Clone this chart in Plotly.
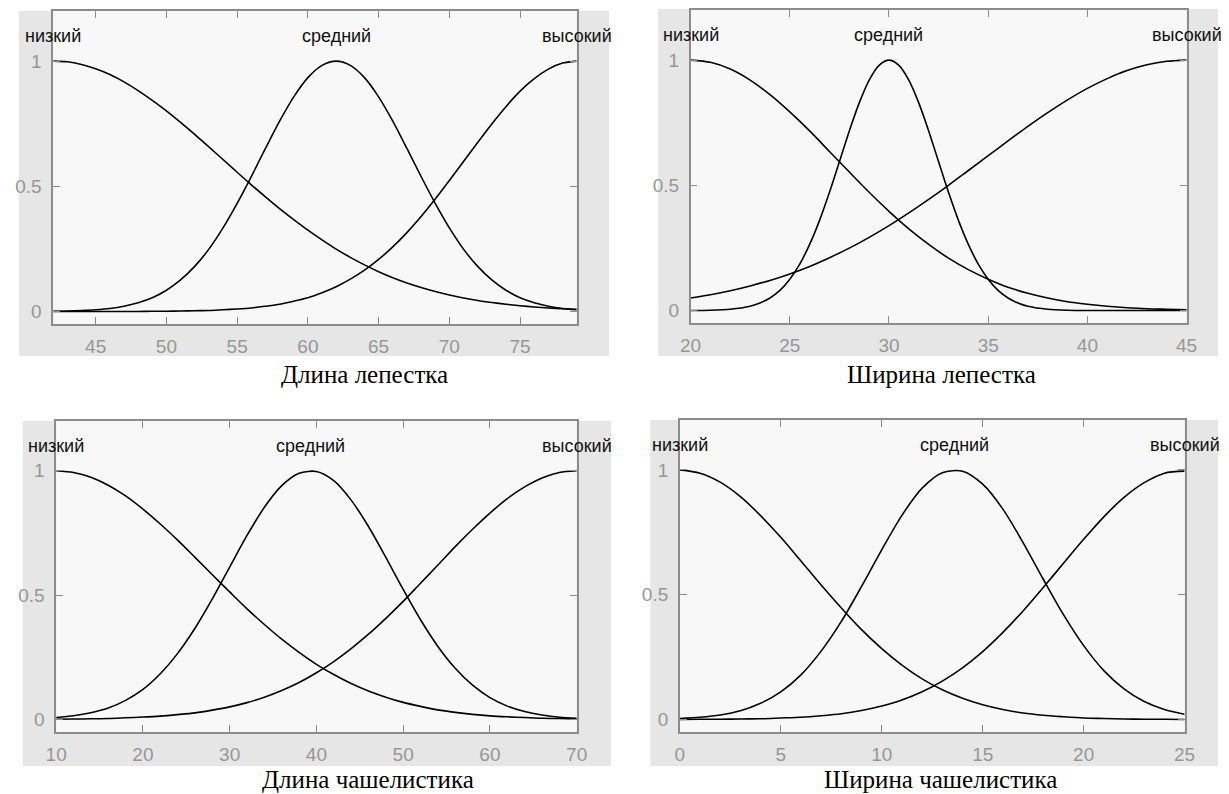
import plotly.graph_objects as go

W, H = 1229, 794

# ---------------- data ----------------
mf_names = ["низкий", "средний", "высокий"]

# Panel 1: Длина лепестка
title1 = "Длина лепестка"
x1 = list(range(42, 80))
low1 = [1.000, .997, .986, .969, .946, .917, .882, .843, .801, .755, .707, .657, .607,
        .556, .506, .458, .411, .367, .325, .286, .249, .216, .186, .159, .135, .114,
        .096, .080, .066, .054, .044, .036, .029, .023, .018, .014, .011, .009]
mid1 = [.001, .002, .004, .007, .012, .021, .035, .055, .085, .126, .180, .249, .334,
        .432, .539, .651, .760, .857, .934, .983, 1.000, .983, .934, .857, .760, .651,
        .539, .432, .334, .249, .180, .126, .085, .055, .035, .021, .012, .007]
high1 = [0, 0, 0, 0, 0, 0, 0, .001, .001, .002, .003, .004, .007, .010, .014, .021,
         .029, .041, .055, .075, .099, .129, .165, .208, .258, .315, .379, .449, .523,
         .599, .675, .749, .818, .880, .930, .968, .992, 1.000]
centers1 = [42, 62, 79]
range1 = [42, 79]
ticks1 = [45, 50, 55, 60, 65, 70, 75]

# Panel 2: Ширина лепестка
title2 = "Ширина лепестка"
x2 = list(range(20, 46))
low2 = [1.000, .991, .964, .920, .862, .793, .717, .635, .553, .472, .396, .326, .264,
        .209, .163, .125, .093, .069, .050, .035, .025, .017, .011, .007, .005, .003]
high2 = [.050, .063, .079, .098, .120, .146, .176, .211, .249, .292, .339, .390, .444,
         .500, .559, .618, .677, .735, .790, .841, .887, .926, .958, .981, .995, 1.000]
# the narrow "средний" curve was read at a finer step
x2_mid = [20, 21, 22, 23, 23.5, 24, 24.5, 25, 25.5, 26, 26.5, 27, 27.5, 28, 28.5, 29,
          29.5, 30, 30.5, 31, 31.5, 32, 32.5, 33, 33.5, 34, 34.5, 35, 35.5, 36, 36.5,
          37, 38, 39, 40, 41, 42, 43, 44, 45]
mid2 = [.000, .001, .005, .017, .030, .050, .080, .125, .185, .264, .360, .472, .594,
        .717, .829, .920, .979, 1.000, .979, .920, .829, .717, .594, .472, .360, .264,
        .185, .125, .080, .050, .030, .017, .005, .001, 0, 0, 0, 0, 0, 0]
centers2 = [20, 30, 45]
range2 = [20, 45]
ticks2 = [20, 25, 30, 35, 40, 45]

# Panel 3: Длина чашелистика
title3 = "Длина чашелистика"
x3 = list(range(10, 71, 2))
low3 = [1.000, .993, .974, .942, .899, .846, .786, .721, .652, .582, .513, .445, .382,
        .323, .270, .222, .181, .145, .115, .090, .069, .053, .039, .029, .021, .015,
        .011, .008, .005, .004, .002]
mid3 = [.008, .015, .027, .046, .077, .121, .184, .266, .367, .485, .613, .740, .853,
        .940, .990, .997, .960, .882, .776, .652, .523, .401, .294, .206, .138, .088,
        .054, .032, .018, .009, .005]
high3 = [.001, .002, .003, .004, .007, .010, .014, .020, .027, .038, .051, .068, .090,
         .117, .149, .188, .233, .285, .343, .407, .475, .548, .621, .695, .765, .830,
         .888, .935, .971, .993, 1.000]
centers3 = [10, 39.3, 70]
range3 = [10, 70]
ticks3 = [10, 20, 30, 40, 50, 60, 70]

# Panel 4: Ширина чашелистика
title4 = "Ширина чашелистика"
x4 = list(range(0, 26))
low4 = [1.000, .987, .951, .893, .817, .730, .635, .539, .447, .360, .284, .218, .163,
        .119, .085, .059, .040, .026, .017, .011, .006, .004, .002, .001, .001, .000]
mid4 = [.004, .009, .018, .035, .065, .111, .179, .274, .393, .533, .680, .818, .927,
        .989, .995, .943, .843, .709, .562, .420, .296, .196, .123, .072, .040, .021]
high4 = [.000, .001, .001, .002, .003, .006, .009, .015, .023, .036, .054, .078, .111,
         .154, .207, .272, .349, .435, .529, .626, .722, .812, .890, .949, .987, .995]
centers4 = [0, 13.6, 25]
range4 = [0, 25]
ticks4 = [0, 5, 10, 15, 20, 25]

y_ticks = [0, 0.5, 1]
y_ticktext = ["0", "0.5", "1"]

# ---------------- layout (pixel boxes) ----------------
# title position: (x centre, y, vertical anchor)
panels = [
    dict(curves=[(x1, low1), (x1, mid1), (x1, high1)], centers=centers1, rng=range1,
         ticks=ticks1, title=title1, box=(43, 11, 576, 324), gray=(8, 11, 609, 356),
         tpos=(360, 374, "middle")),
    dict(curves=[(x2, low2), (x2_mid, mid2), (x2, high2)], centers=centers2, rng=range2,
         ticks=ticks2, title=title2, box=(692, 10, 1197, 323), gray=(659, 9, 1229, 356),
         tpos=(947, 374, "middle")),
    dict(curves=[(x3, low3), (x3, mid3), (x3, high3)], centers=centers3, rng=range3,
         ticks=ticks3, title=title3, box=(46, 421, 576, 732), gray=(12, 421, 611, 766),
         tpos=(363, 794, "bottom")),
    dict(curves=[(x4, low4), (x4, mid4), (x4, high4)], centers=centers4, rng=range4,
         ticks=ticks4, title=title4, box=(681, 420, 1195, 732), gray=(651, 420, 1229, 766),
         tpos=(946, 794, "bottom")),
]

AXIS_GRAY = "#8c8c8c"
TICK_FONT = dict(family="Liberation Sans Narrow, Arial Narrow, Liberation Sans, Arial",
                 size=19, color="#969696")
LABEL_FONT = dict(family="Liberation Sans Narrow, Arial Narrow, Liberation Sans, Arial",
                  size=18, color="#111111")
TITLE_FONT = dict(family="Liberation Serif, Times New Roman, serif", size=25, color="black")

fig = go.Figure()
layout = dict(width=W, height=H, margin=dict(l=0, r=0, t=0, b=0),
              paper_bgcolor="white", plot_bgcolor="rgba(0,0,0,0)",
              showlegend=False, shapes=[], annotations=[])

for i, p in enumerate(panels, start=1):
    sfx = "" if i == 1 else str(i)
    xa, ya = "x" + sfx, "y" + sfx
    bx0, by0, bx1, by1 = p["box"]
    gx0, gy0, gx1, gy1 = p["gray"]

    layout["shapes"].append(dict(type="rect", xref="paper", yref="paper", layer="below",
                                 x0=gx0 / W, x1=gx1 / W, y0=1 - gy1 / H, y1=1 - gy0 / H,
                                 fillcolor="#e6e6e6", line=dict(width=0)))
    layout["shapes"].append(dict(type="rect", xref=xa + " domain", yref=ya + " domain",
                                 layer="below", x0=0, x1=1, y0=0, y1=1,
                                 fillcolor="#f8f8f8", line=dict(width=0)))

    layout["xaxis" + sfx] = dict(domain=[bx0 / W, bx1 / W], anchor=ya, range=p["rng"],
                                 tickvals=p["ticks"], ticks="inside", ticklen=7,
                                 tickcolor=AXIS_GRAY, tickwidth=1, showline=True,
                                 linecolor=AXIS_GRAY, linewidth=1.5, mirror="ticks",
                                 showgrid=False, zeroline=False, tickfont=TICK_FONT,
                                 ticklabelstandoff=4, fixedrange=True)
    layout["yaxis" + sfx] = dict(domain=[1 - by1 / H, 1 - by0 / H], anchor=xa,
                                 range=[-0.05, 1.2], tickvals=y_ticks, ticktext=y_ticktext,
                                 ticks="inside", ticklen=7, tickcolor=AXIS_GRAY, tickwidth=1,
                                 showline=True, linecolor=AXIS_GRAY, linewidth=1.5,
                                 mirror="ticks", showgrid=False, zeroline=False,
                                 tickfont=TICK_FONT, ticklabelstandoff=6, fixedrange=True)

    for xs, ys in p["curves"]:
        fig.add_trace(go.Scatter(x=xs, y=ys, mode="lines", xaxis=xa, yaxis=ya,
                                 line=dict(color="black", width=1.6, shape="spline",
                                           smoothing=0.8),
                                 hoverinfo="skip"))

    for c, name in zip(p["centers"], mf_names):
        layout["annotations"].append(dict(x=c, y=1.1, xref=xa, yref=ya, text=name,
                                          showarrow=False, xanchor="center",
                                          yanchor="middle", font=LABEL_FONT))

    tx, ty, tanchor = p["tpos"]
    layout["annotations"].append(dict(x=tx / W, y=1 - ty / H, xref="paper", yref="paper",
                                      text=p["title"], showarrow=False, xanchor="center",
                                      yanchor=tanchor, font=TITLE_FONT, borderpad=0))

fig.update_layout(**layout)
fig.write_html("out.html")
